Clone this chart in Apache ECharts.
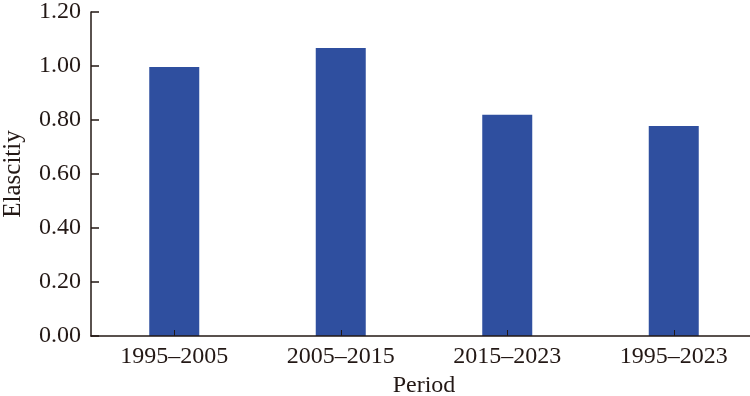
<!DOCTYPE html>
<html>
<head>
<meta charset="utf-8">
<script src="https://cdn.jsdelivr.net/npm/echarts@6/dist/echarts.min.js"></script>
<style>html,body{margin:0;padding:0;background:#fff}#c{width:750px;height:396px}</style>
</head>
<body>
<div id="c"></div>
<script>
const categories = ['1995–2005', '2005–2015', '2015–2023', '1995–2023'];
const elasticity = [0.996, 1.067, 0.819, 0.778];
const yTicks = { min: 0, max: 1.2, interval: 0.2 };

const font = 'Liberation Serif';
const ink = '#231815';
const chart = echarts.init(document.getElementById('c'), null, { renderer: 'canvas' });
chart.setOption({
  animation: false,
  backgroundColor: '#fff',
  grid: { left: 91, top: 12, width: 666, height: 324, containLabel: false, outerBoundsMode: 'none' },
  xAxis: {
    type: 'category',
    data: categories,
    z: 5,
    name: 'Period',
    nameLocation: 'middle',
    nameGap: 36,
    nameTextStyle: { fontFamily: font, fontSize: 24, color: ink },
    axisLine: { lineStyle: { color: ink, width: 1.5 } },
    axisTick: { show: true, inside: true, length: 6, alignWithLabel: true, lineStyle: { color: ink, width: 1 } },
    axisLabel: { fontFamily: font, fontSize: 24, color: ink, margin: 9 },
    splitLine: { show: false }
  },
  yAxis: {
    type: 'value',
    min: yTicks.min, max: yTicks.max, interval: yTicks.interval,
    name: 'Elascitiy',
    nameLocation: 'middle',
    nameGap: 65,
    nameTextStyle: { fontFamily: font, fontSize: 25, color: ink },
    axisLine: { show: true, lineStyle: { color: ink, width: 1.5 } },
    axisTick: { show: true, inside: true, length: 8, lineStyle: { color: ink, width: 1.5 } },
    axisLabel: { fontFamily: font, fontSize: 24, color: ink, margin: 10, formatter: v => v.toFixed(2) },
    splitLine: { show: false }
  },
  series: [{
    type: 'bar',
    data: elasticity,
    barWidth: 50,
    itemStyle: { color: '#2f4f9f' }
  }]
});
</script>
</body>
</html>
